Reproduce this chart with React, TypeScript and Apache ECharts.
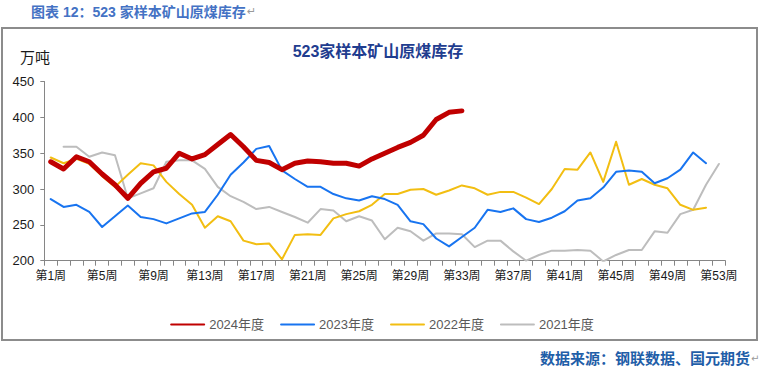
import React, { useEffect, useRef } from "react";
import * as echarts from "echarts";

const weeks: string[] = Array.from({ length: 53 }, (_, i) => `第${i + 1}周`);
const yTicks = [200, 250, 300, 350, 400, 450];

const s2024: (number | null)[] = [338, 328, 345, 338, 321, 306, 287, 308, 324, 329, 350, 342, 348, 362, 376, 359, 340, 337, 327, 336, 339, 338, 336, 336, 332, 342, 350, 358, 365, 375, 397, 407, 409];
const s2023: (number | null)[] = [286, 275, 278, 268, 247, 262, 277, 261, 258, 252, 259, 266, 268, 292, 320, 337, 356, 360, 326, 314, 303, 303, 293, 287, 284, 290, 286, 278, 255, 251, 231, 220, 233, 246, 271, 268, 273, 258, 254, 260, 269, 284, 287, 302, 324, 326, 324, 308, 315, 327, 351, 336];
const s2022: (number | null)[] = [344, 336, 342, 335, 318, 303, 320, 336, 333, 310, 293, 278, 246, 262, 255, 228, 223, 224, 202, 236, 237, 236, 259, 265, 269, 278, 293, 293, 299, 300, 292, 298, 305, 301, 292, 296, 296, 288, 279, 300, 328, 327, 351, 310, 366, 306, 314, 306, 301, 278, 271, 274];
const s2021: (number | null)[] = [null, 359, 359, 345, 351, 347, 287, 294, 301, 338, 340, 340, 328, 303, 290, 282, 272, 275, 268, 261, 253, 272, 270, 255, 262, 256, 230, 246, 241, 228, 238, 238, 237, 219, 228, 228, 213, 200, 208, 214, 214, 215, 214, 199, 208, 215, 215, 241, 239, 265, 271, 306, 335];

const seriesNames = ["2024年度", "2023年度", "2022年度", "2021年度"];
const seriesData = [s2024, s2023, s2022, s2021];
const seriesColors = ["#C00000", "#1874F0", "#F2BE12", "#BDBDBD"];
const seriesWidths = [5, 2, 2, 2];

const FONT = "'Liberation Sans', 'Noto Sans CJK SC', sans-serif";

export default function App() {
  const ref = useRef<HTMLDivElement>(null);
  useEffect(() => {
    document.body.style.margin = "0";
    if (!ref.current) return;
    const chart = echarts.init(ref.current, null, { renderer: "svg" });
    chart.setOption({
      animation: false,
      backgroundColor: "#ffffff",
      grid: { left: 44.3, right: 38.7, top: 81.5, bottom: 108.3 },
      legend: {
        data: seriesNames,
        left: "center",
        top: 313,
        itemWidth: 33,
        itemHeight: 10,
        itemGap: 16,
        itemStyle: { opacity: 0 },
        textStyle: { fontSize: 13, color: "#595959", fontFamily: FONT },
      },
      xAxis: {
        type: "category",
        data: weeks,
        boundaryGap: true,
        axisLine: { lineStyle: { color: "#868686", width: 1 } },
        axisTick: { show: true, interval: 0, length: 5, lineStyle: { color: "#868686" } },
        axisLabel: { interval: 3, fontSize: 12, color: "#1a1a1a", margin: 9, fontFamily: FONT },
        splitLine: { show: false },
      },
      yAxis: {
        type: "value",
        min: yTicks[0],
        max: yTicks[yTicks.length - 1],
        interval: 50,
        axisLine: { show: true, lineStyle: { color: "#868686", width: 1 } },
        axisTick: { show: true, length: 4, lineStyle: { color: "#868686" } },
        axisLabel: { fontSize: 13, color: "#1a1a1a", margin: 10, fontFamily: FONT },
        splitLine: { show: false },
      },
      series: seriesNames.map((name, i) => ({
        name,
        type: "line",
        data: seriesData[i],
        symbol: "none",
        showSymbol: false,
        z: 10 - i,
        lineStyle: { color: seriesColors[i], width: seriesWidths[i], cap: "round", join: "round" },
        itemStyle: { color: seriesColors[i] },
      })),
      graphic: [
        {
          type: "rect",
          shape: { x: 2, y: 28, width: 755, height: 312 },
          style: { fill: "none", stroke: "#8c8c8c", lineWidth: 2 },
          silent: true,
        },
        {
          type: "text",
          left: 31,
          top: 5,
          style: { text: "图表 12：523 家样本矿山原煤库存", fontSize: 14, fontWeight: "bold", fill: "#4472C4", fontFamily: FONT },
        },
        {
          type: "text",
          left: 247,
          top: 6,
          style: { text: "↵", fontSize: 11, fill: "#9a9a9a", fontFamily: "'DejaVu Sans', sans-serif" },
        },
        {
          type: "text",
          x: 378,
          y: 51,
          style: { text: "523家样本矿山原煤库存", fontSize: 16, fontWeight: "bold", fill: "#1F3D8F", align: "center", verticalAlign: "middle", fontFamily: FONT },
        },
        {
          type: "text",
          x: 20,
          y: 57,
          style: { text: "万吨", fontSize: 15, fill: "#1a1a1a", verticalAlign: "middle", fontFamily: FONT },
        },
        {
          type: "text",
          x: 540,
          y: 358,
          style: { text: "数据来源：钢联数据、国元期货", fontSize: 15, fontWeight: "bold", fill: "#1F5EA8", verticalAlign: "middle", fontFamily: FONT },
        },
        {
          type: "text",
          x: 751,
          y: 358,
          style: { text: "↵", fontSize: 10, fill: "#9a9a9a", verticalAlign: "middle", fontFamily: "'DejaVu Sans', sans-serif" },
        },
      ],
    });
    return () => chart.dispose();
  }, []);
  return <div ref={ref} style={{ width: 764, height: 369 }} />;
}
